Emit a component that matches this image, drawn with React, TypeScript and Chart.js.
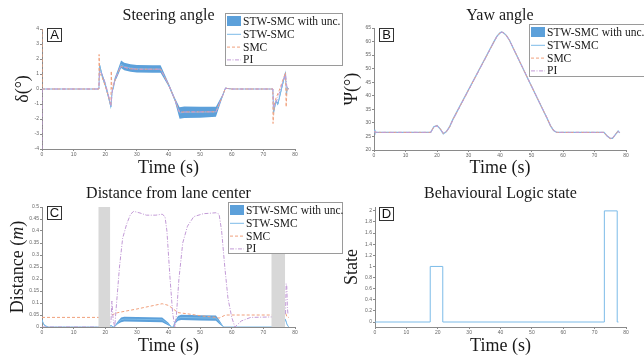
import React, { useEffect, useRef } from 'react';
import { Chart, registerables } from 'chart.js';

Chart.register(...registerables);

// ---------------- data ----------------
const timeTicks = [0, 10, 20, 30, 40, 50, 60, 70, 80];

// Panel A: steering angle (deg)
const steerT = [0, 18, 18.2, 19, 20, 21, 21.8, 22.2, 22.6, 23, 24, 25, 26, 28, 30, 35, 37.5, 40, 42, 43.5, 45, 50, 55, 57, 58, 60, 73, 73.2, 74, 74.6, 75.5, 76.3, 77, 77.3, 77.6, 78];
const steerSTW = [0, 0, 1.6, 0.9, 0.3, -0.5, -1.2, -0.1, 0.1, 0.6, 1.1, 1.65, 1.5, 1.4, 1.35, 1.33, 1.33, 0.3, -0.7, -1.6, -1.55, -1.55, -1.52, -0.5, 0.05, 0, 0, -1.6, -0.8, -1.0, -0.2, 0.5, 1.1, -0.4, 0.1, 0];
const steerUnc = [0, 0, 0.15, 0.15, 0.15, 0.15, 0.15, 0.1, 0.1, 0.15, 0.2, 0.25, 0.25, 0.25, 0.25, 0.25, 0.25, 0.12, 0.12, 0.38, 0.38, 0.36, 0.33, 0.1, 0.05, 0, 0, 0.12, 0.1, 0.1, 0.1, 0.12, 0.15, 0.1, 0.05, 0];
const steerSmcT = [0, 0.05, 18, 18.05, 18.3, 19, 20, 21, 21.8, 21.9, 22.1, 23, 24, 25, 26, 28, 30, 37.5, 40, 42, 43.5, 45, 55, 57, 58, 60, 73, 73.05, 73.5, 74, 75, 76, 77, 77.2, 77.5, 78];
const steerSMC = [4, 0, 0, 2.3, 1.0, 0.8, 0.2, -0.5, -1.1, 1.2, 0, 0.5, 1.1, 1.5, 1.45, 1.35, 1.32, 1.32, 0.3, -0.7, -1.55, -1.53, -1.52, -0.5, 0.05, 0, 0, -2.3, -1.0, -0.6, -0.1, 0.5, 1.1, -1.2, 0.1, 0];
const steerPiT = [0, 0.05, 18, 18.2, 19, 20, 21, 21.8, 22.3, 23, 24, 25, 26, 28, 30, 37.5, 40, 42, 43.5, 45, 55, 57, 58, 60, 73, 73.3, 74, 75, 76, 77, 77.4, 77.8, 78];
const steerPI = [-4, 0, 0, 1.2, 1.0, 0.4, -0.4, -1.1, 0, 0.6, 1.1, 1.55, 1.45, 1.35, 1.32, 1.32, 0.3, -0.7, -1.55, -1.53, -1.52, -0.5, 0.05, 0, 0, -1.2, -0.9, -0.3, 0.4, 1.0, 0.2, 0, 0];
const steerTicks = [-4, -3, -2, -1, 0, 1, 2, 3, 4];

// Panel B: yaw angle (deg)
const yawT = [0, 0.3, 1, 18, 19, 20, 21, 22, 23, 24, 25, 30, 35, 38, 39, 40, 40.5, 41, 42, 43, 50, 55, 56, 57, 58, 73, 74, 75, 75.7, 76.5, 77.5, 78];
const yawSTW = [27.5, 26.6, 26.5, 26.5, 28.6, 29, 27.8, 26, 26.8, 28.6, 31.2, 42.2, 53.2, 59.8, 61.9, 63.2, 63.5, 63.3, 62.3, 60.5, 43.5, 31.5, 29, 27.2, 26.5, 26.5, 25.2, 24.3, 24.3, 25.5, 27, 26.3];
const yawSMC = [27.0, 26.6, 26.5, 26.5, 28.5, 29, 27.9, 26.1, 26.8, 28.5, 31.1, 42.1, 53.1, 59.7, 61.9, 63.2, 63.5, 63.3, 62.3, 60.5, 43.5, 31.6, 29, 27.2, 26.5, 26.5, 25.1, 24.2, 24.3, 25.6, 27, 26.4];
const yawPI = [26.8, 26.6, 26.5, 26.5, 28.4, 28.9, 27.9, 26.2, 26.8, 28.4, 31.0, 42.0, 53.0, 59.7, 61.8, 63.1, 63.4, 63.3, 62.3, 60.5, 43.6, 31.7, 29.1, 27.3, 26.5, 26.5, 25.2, 24.3, 24.4, 25.5, 26.9, 26.4];
const yawTicks = [20, 25, 30, 35, 40, 45, 50, 55, 60, 65];

// Panel C: distance from lane center (m)
const distT = [0, 0.5, 1, 2, 18, 22, 22.5, 23, 24, 25, 26, 30, 38, 40, 41, 41.5, 42, 43, 44, 50, 55, 56, 57, 57.5, 73, 77, 77.5, 78];
const distSTW = [0.03, 0.012, 0.005, 0, 0, 0.005, 0, 0.003, 0.018, 0.03, 0.033, 0.032, 0.03, 0.012, 0, 0, 0.018, 0.036, 0.04, 0.038, 0.037, 0.022, 0.006, 0, 0, 0.03, 0.01, 0];
const distUnc = [0.003, 0.003, 0.002, 0, 0, 0.002, 0, 0.002, 0.006, 0.01, 0.01, 0.01, 0.01, 0.006, 0, 0, 0.006, 0.01, 0.011, 0.011, 0.011, 0.008, 0.003, 0, 0, 0.004, 0.002, 0];
const distSmcT = [0, 18, 22, 24, 30, 38, 40, 43, 46, 50, 55, 56, 58, 73, 77, 77.5, 78];
const distSMC = [0.04, 0.04, 0.05, 0.06, 0.075, 0.097, 0.09, 0.06, 0.055, 0.047, 0.04, 0.037, 0.05, 0.05, 0.06, 0.04, 0.04];
const distPiT = [0, 18, 21.8, 22.1, 22.5, 23, 23.4, 24.5, 25.5, 26.8, 28, 29, 31, 33, 36, 38, 38.9, 39.5, 40.5, 41.3, 42, 42.5, 43.3, 44.5, 46, 48, 51, 55, 56, 56.8, 57.8, 58.8, 60, 61, 63, 66, 73, 77, 77.2, 77.4, 77.6, 77.8];
const distPI = [0, 0, 0.02, 0.108, 0.03, 0, 0.07, 0.25, 0.37, 0.43, 0.47, 0.482, 0.475, 0.466, 0.466, 0.47, 0.46, 0.4, 0.2, 0.06, 0, 0.05, 0.2, 0.35, 0.42, 0.46, 0.472, 0.476, 0.47, 0.4, 0.25, 0.12, 0.04, 0, 0.025, 0.04, 0.042, 0.05, 0.18, 0.17, 0.08, 0.05];
const grayStart = [17.8, 72.5];
const grayEnd = [21.6, 76.9];
const distTicks = [0, 0.05, 0.1, 0.15, 0.2, 0.25, 0.3, 0.35, 0.4, 0.45, 0.5];

// Panel D: behavioural logic state
const stateT = [0, 17.6, 21.6, 73.1, 77.2, 77.6];
const stateV = [0, 1, 0, 2, 0, 0];
const stateTicks = [0, 0.2, 0.4, 0.6, 0.8, 1, 1.2, 1.4, 1.6, 1.8, 2];

// ---------------- styles ----------------
const SERIF = "'Liberation Serif', 'Times New Roman', serif";
const SANS = "'Liberation Sans', Arial, sans-serif";
const C_BAND = 'rgb(92,160,218)';
const C_STW = '#7cbbe8';
const C_SMC = '#f0a07c';
const C_PI = '#c29ad6';
const C_GRAY = '#d8d8d8';
const NONE = 'rgba(0,0,0,0)';
const DASH_SMC = [3, 2];
const DASH_PI = [4, 1.5, 1, 1.5];

type LegendRow = { label: string; kind: 'band' | 'line'; color: string; dash?: number[] };
const legendRows: LegendRow[] = [
  { label: 'STW-SMC with unc.', kind: 'band', color: C_BAND },
  { label: 'STW-SMC', kind: 'line', color: C_STW },
  { label: 'SMC', kind: 'line', color: C_SMC, dash: DASH_SMC },
  { label: 'PI', kind: 'line', color: C_PI, dash: DASH_PI },
];

type Part = { text: string; italic?: boolean };
type Spec = {
  title: string;
  yTitle: Part[];
  yTitleX: number;
  letter: string;
  letterBox: [number, number];
  legend?: { x: number; y: number; w: number; h: number };
};

function makeDecor(spec: Spec) {
  return {
    id: 'decor',
    afterDraw(chart: any) {
      const ctx: CanvasRenderingContext2D = chart.ctx;
      const a = chart.chartArea;
      const cx = (a.left + a.right) / 2;
      const cy = (a.top + a.bottom) / 2;
      ctx.save();
      ctx.fillStyle = '#1a1a1a';
      ctx.textAlign = 'center';
      ctx.textBaseline = 'alphabetic';
      ctx.font = `16px ${SERIF}`;
      ctx.fillText(spec.title, cx, 20);
      ctx.font = `18px ${SERIF}`;
      ctx.fillText('Time (s)', cx, 173);

      ctx.save();
      ctx.translate(spec.yTitleX, cy);
      ctx.rotate(-Math.PI / 2);
      const parts = spec.yTitle.map((p) => ({ ...p, font: `${p.italic ? 'italic ' : ''}18px ${SERIF}` }));
      let total = 0;
      for (const p of parts) {
        ctx.font = p.font;
        total += ctx.measureText(p.text).width;
      }
      let x = -total / 2;
      ctx.textAlign = 'left';
      for (const p of parts) {
        ctx.font = p.font;
        ctx.fillText(p.text, x, 0);
        x += ctx.measureText(p.text).width;
      }
      ctx.restore();

      const [lx, ly] = spec.letterBox;
      ctx.fillStyle = '#fff';
      ctx.fillRect(lx, ly, 15, 14);
      ctx.strokeStyle = '#333';
      ctx.lineWidth = 1;
      ctx.setLineDash([]);
      ctx.strokeRect(lx + 0.5, ly + 0.5, 14, 13);
      ctx.fillStyle = '#111';
      ctx.font = `13px ${SANS}`;
      ctx.textAlign = 'center';
      ctx.textBaseline = 'middle';
      ctx.fillText(spec.letter, lx + 7.5, ly + 7.5);

      const L = spec.legend;
      if (L) {
        ctx.fillStyle = '#fff';
        ctx.fillRect(L.x, L.y, L.w, L.h);
        ctx.strokeStyle = '#9a9a9a';
        ctx.strokeRect(L.x + 0.5, L.y + 0.5, L.w - 1, L.h - 1);
        legendRows.forEach((r, i) => {
          const y = L.y + 8 + i * 12.8;
          if (r.kind === 'band') {
            ctx.fillStyle = r.color;
            ctx.fillRect(L.x + 2, y - 5, 14, 10);
          } else {
            ctx.strokeStyle = r.color;
            ctx.lineWidth = 1;
            ctx.setLineDash(r.dash || []);
            ctx.beginPath();
            ctx.moveTo(L.x + 2, y + 0.5);
            ctx.lineTo(L.x + 16, y + 0.5);
            ctx.stroke();
            ctx.setLineDash([]);
          }
          ctx.fillStyle = '#1a1a1a';
          ctx.font = `11.5px ${SERIF}`;
          ctx.textAlign = 'left';
          ctx.textBaseline = 'middle';
          ctx.fillText(r.label, L.x + 18, y + 1);
        });
      }
      ctx.restore();
    },
  };
}

const pts = (t: number[], v: number[], d: number[] = [], sign = 0) =>
  t.map((x, i) => ({ x, y: v[i] + sign * (d[i] || 0) }));

const line = (label: string, data: any[], color: string, dash: number[] = [], order = 1, extra: any = {}) => ({
  label,
  data,
  borderColor: color,
  borderWidth: 1,
  borderDash: dash,
  pointRadius: 0,
  tension: 0,
  fill: false,
  order,
  ...extra,
});

const band = (t: number[], v: number[], u: number[]) => [
  { label: 'lower', data: pts(t, v, u, -1), borderColor: NONE, borderWidth: 1, pointRadius: 0, fill: false, order: 5 },
  { label: 'upper', data: pts(t, v, u, 1), borderColor: NONE, borderWidth: 1, pointRadius: 0, fill: '-1', backgroundColor: C_BAND, order: 5 },
];

const fmt = (v: any) => String(Math.round(Number(v) * 1000) / 1000);

function scales(yMin: number, yMax: number, yTicks: number[], yW: number, xH: number) {
  const common = {
    grid: { drawOnChartArea: false, drawTicks: true, tickLength: 2, color: '#8a8a8a' },
    border: { color: '#8a8a8a', width: 1 },
  };
  return {
    x: {
      type: 'linear',
      min: 0,
      max: 80,
      afterBuildTicks: (s: any) => { s.ticks = timeTicks.map((value) => ({ value })); },
      afterFit: (s: any) => { s.height = xH; },
      ticks: { font: { size: 5, family: SANS }, color: '#666', padding: 1, maxRotation: 0, autoSkip: false, callback: fmt },
      ...common,
    },
    y: {
      type: 'linear',
      min: yMin,
      max: yMax,
      afterBuildTicks: (s: any) => { s.ticks = yTicks.map((value) => ({ value })); },
      afterFit: (s: any) => { s.width = yW; },
      ticks: { font: { size: 5, family: SANS }, color: '#666', padding: 1, autoSkip: false, callback: fmt },
      ...common,
    },
  };
}

type PanelProps = {
  left: number;
  top: number;
  width: number;
  datasets: any[];
  spec: Spec;
  yMin: number;
  yMax: number;
  yTicks: number[];
  yW: number;
  padTop: number;
  padRight: number;
  xH: number;
};

function Panel(p: PanelProps) {
  const ref = useRef<HTMLCanvasElement | null>(null);
  useEffect(() => {
    if (!ref.current) return;
    const chart = new Chart(ref.current, {
      type: 'line',
      data: { datasets: p.datasets },
      options: {
        animation: false,
        responsive: false,
        devicePixelRatio: 1,
        events: [],
        layout: { padding: { left: 0, top: p.padTop, right: p.padRight, bottom: 0 } },
        plugins: { legend: { display: false }, tooltip: { enabled: false }, title: { display: false } },
        scales: scales(p.yMin, p.yMax, p.yTicks, p.yW, p.xH) as any,
      } as any,
      plugins: [makeDecor(p.spec)],
    });
    return () => chart.destroy();
  }, []);
  return (
    <canvas
      ref={ref}
      width={p.width}
      height={178}
      style={{ position: 'absolute', left: p.left, top: p.top, width: p.width, height: 178, display: 'block' }}
    />
  );
}

export default function App() {
  const dsA = [
    ...band(steerT, steerSTW, steerUnc),
    line('STW-SMC', pts(steerT, steerSTW), C_STW, [], 3),
    line('SMC', pts(steerSmcT, steerSMC), C_SMC, DASH_SMC, 2),
    line('PI', pts(steerPiT, steerPI), C_PI, DASH_PI, 1),
  ];
  const dsB = [
    line('STW-SMC', pts(yawT, yawSTW), C_STW, [], 3, { borderWidth: 1.3 }),
    line('SMC', pts(yawT, yawSMC), C_SMC, DASH_SMC, 2),
    line('PI', pts(yawT, yawPI), C_PI, DASH_PI, 1),
  ];
  const grayBars = grayStart.map((s, i) => ({
    label: 'bar' + i,
    data: [{ x: s, y: 0.5 }, { x: grayEnd[i], y: 0.5 }],
    borderColor: NONE,
    borderWidth: 1,
    pointRadius: 0,
    fill: 'origin',
    backgroundColor: C_GRAY,
    order: -1,
  }));
  const dsC = [
    ...band(distT, distSTW, distUnc),
    line('STW-SMC', pts(distT, distSTW), C_STW, [], 3),
    line('SMC', pts(distSmcT, distSMC), C_SMC, DASH_SMC, 2),
    line('PI', pts(distPiT, distPI), C_PI, DASH_PI, 1),
    ...grayBars,
  ];
  const dsD = [line('State', pts(stateT, stateV), C_STW, [], 1, { stepped: true })];

  return (
    <div style={{ position: 'fixed', left: 0, top: 0, width: 644, height: 356, background: '#fff', overflow: 'hidden' }}>
      <Panel left={0} top={0} width={350} datasets={dsA} yMin={-4} yMax={4} yTicks={steerTicks} yW={42} padTop={29} padRight={55} xH={29}
        spec={{ title: 'Steering angle', yTitle: [{ text: 'δ(°)' }], yTitleX: 28, letter: 'A', letterBox: [47, 28], legend: { x: 225, y: 13, w: 118, h: 53 } }} />
      <Panel left={322} top={0} width={322} datasets={dsB} yMin={20} yMax={65} yTicks={yawTicks} yW={52} padTop={28} padRight={18} xH={28}
        spec={{ title: 'Yaw angle', yTitle: [{ text: 'Ψ(°)' }], yTitleX: 35, letter: 'B', letterBox: [57, 28], legend: { x: 207, y: 24, w: 140, h: 53 } }} />
      <Panel left={0} top={178} width={350} datasets={dsC} yMin={0} yMax={0.5} yTicks={distTicks} yW={42} padTop={29} padRight={55} xH={29}
        spec={{ title: 'Distance from lane center', yTitle: [{ text: 'Distance (' }, { text: 'm', italic: true }, { text: ')' }], yTitleX: 23, letter: 'C', letterBox: [47, 28], legend: { x: 228, y: 24, w: 115, h: 52 } }} />
      <Panel left={322} top={178} width={322} datasets={dsD} yMin={-0.09} yMax={2.07} yTicks={stateTicks} yW={53} padTop={29} padRight={18} xH={29}
        spec={{ title: 'Behavioural Logic state', yTitle: [{ text: 'State' }], yTitleX: 35, letter: 'D', letterBox: [57, 29] }} />
    </div>
  );
}
